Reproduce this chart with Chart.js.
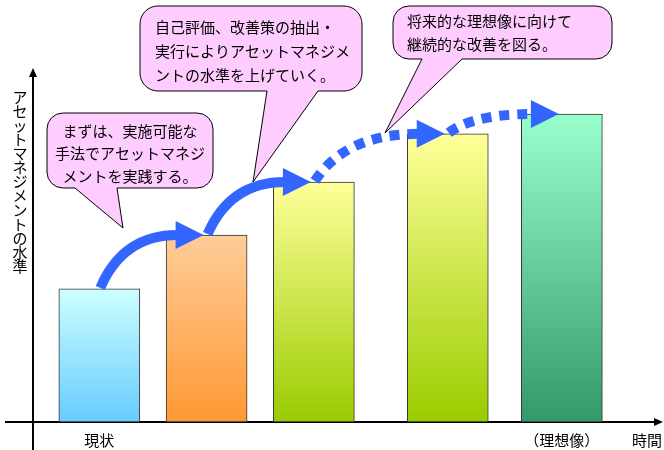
<!DOCTYPE html>
<html lang="ja">
<head>
<meta charset="utf-8">
<script src="https://cdn.jsdelivr.net/npm/chart.js@4.4.1/dist/chart.umd.min.js"></script>
<style>
  html, body { margin: 0; padding: 0; background: #fff; }
  #wrap { width: 664px; height: 450px; }
</style>
</head>
<body>
<div id="wrap"><canvas id="levelChart" width="664" height="450"></canvas></div>
<script>
// 時間軸上の位置と水準 (目盛りなし・相対値)
const timePoints = [1.07, 2.8, 4.53, 6.69, 8.53];
const levels = [37.6, 52.8, 67.8, 81.4, 87.0];
const tickLabels = ['現状', '', '', '', '（理想像）'];
const yTitle = 'アセットマネジメントの水準';
const xTitle = '時間';
// 各区間の矢印が点線かどうか
const arrowDashed = [false, false, true, true];
// 吹き出しの文言
const bubble1Lines = ['まずは、実施可能な', '手法でアセットマネジ', 'メントを実践する。'];
const bubble2Lines = ['自己評価、改善策の抽出・', '実行によりアセットマネジメ', 'ントの水準を上げていく。'];
const bubble3Lines = ['将来的な理想像に向けて', '継続的な改善を図る。'];

const topColors = ['#CCFFFF', '#FFCC99', '#FFFF99', '#FFFF99', '#99FFCC'];
const bottomColors = ['#66CCFF', '#FF9933', '#99CC00', '#99CC00', '#339966'];
const arrowBlue = '#3366FF';
const jpFont = '"Noto Sans CJK JP", "Noto Sans", sans-serif';

function drawArrow(ctx, sx, sy, tx, ty, dashed) {
    const headLen = 28, headHalf = 14;
    const bx = tx - headLen;
    const cx = sx + (bx - sx) * 0.3;
    ctx.save();
    ctx.strokeStyle = arrowBlue;
    ctx.fillStyle = arrowBlue;
    ctx.lineWidth = 10;
    ctx.lineCap = 'butt';
    if (dashed) ctx.setLineDash([10, 8]);
    ctx.beginPath();
    ctx.moveTo(sx, sy);
    ctx.quadraticCurveTo(cx, ty, bx + 2, ty);
    ctx.stroke();
    ctx.setLineDash([]);
    ctx.beginPath();
    ctx.moveTo(tx, ty);
    ctx.lineTo(bx, ty - headHalf);
    ctx.lineTo(bx, ty + headHalf);
    ctx.closePath();
    ctx.fill();
    ctx.restore();
}

function drawBubble(ctx, b, lines) {
    const { x, y, w, h, r, t1, t2, tipX, tipY } = b;
    ctx.save();
    ctx.beginPath();
    ctx.moveTo(x + r, y);
    ctx.arcTo(x + w, y, x + w, y + h, r);
    ctx.arcTo(x + w, y + h, x, y + h, r);
    ctx.lineTo(t2, y + h);
    ctx.lineTo(tipX, tipY);
    ctx.lineTo(t1, y + h);
    ctx.arcTo(x, y + h, x, y, r);
    ctx.arcTo(x, y, x + w, y, r);
    ctx.closePath();
    ctx.fillStyle = '#FFCCFF';
    ctx.fill();
    ctx.strokeStyle = '#000';
    ctx.lineWidth = 1;
    ctx.stroke();

    ctx.fillStyle = '#000';
    ctx.font = '15px ' + jpFont;
    ctx.textBaseline = 'middle';
    ctx.textAlign = b.align;
    lines.forEach((line, i) => {
        ctx.fillText(line, b.textX, b.textY + i * b.lineGap);
    });
    ctx.restore();
}

const decorPlugin = {
    id: 'decor',
    beforeDatasetsDraw(chart) {
        const ctx = chart.ctx;
        const area = chart.chartArea;
        const y0 = chart.scales.y.getPixelForValue(0);
        const xAxis = area.left;
        ctx.save();
        ctx.strokeStyle = '#000';
        ctx.fillStyle = '#000';
        ctx.lineWidth = 2;
        // 縦軸
        ctx.beginPath();
        ctx.moveTo(xAxis, chart.height);
        ctx.lineTo(xAxis, area.top + 6);
        ctx.stroke();
        ctx.beginPath();
        ctx.moveTo(xAxis, area.top);
        ctx.lineTo(xAxis - 4, area.top + 9);
        ctx.lineTo(xAxis + 4, area.top + 9);
        ctx.closePath();
        ctx.fill();
        // 横軸
        ctx.beginPath();
        ctx.moveTo(5, y0);
        ctx.lineTo(chart.width - 6, y0);
        ctx.stroke();
        ctx.beginPath();
        ctx.moveTo(chart.width - 1, y0);
        ctx.lineTo(chart.width - 10, y0 - 4);
        ctx.lineTo(chart.width - 10, y0 + 4);
        ctx.closePath();
        ctx.fill();

        // 縦書きの軸タイトル
        ctx.font = '15px ' + jpFont;
        ctx.textAlign = 'center';
        ctx.textBaseline = 'middle';
        const chars = Array.from(yTitle);
        const step = 14.1;
        chars.forEach((ch, i) => {
            ctx.fillText(ch, 20, 97 + i * step);
        });

        // 横軸ラベル
        const xScale = chart.scales.x;
        tickLabels.forEach((label, i) => {
            if (!label) return;
            ctx.fillText(label, xScale.getPixelForValue(timePoints[i]), y0 + 18);
        });
        ctx.fillText(xTitle, 647, y0 + 18);
        ctx.restore();
    },
    afterDatasetsDraw(chart) {
        const ctx = chart.ctx;
        const bars = chart.getDatasetMeta(0).data;

        drawBubble(ctx, { x: 47, y: 113, w: 166, h: 75, r: 16, t1: 75, t2: 117, tipX: 123, tipY: 228,
            align: 'center', textX: 130, textY: 131, lineGap: 22.5 }, bubble1Lines);
        drawBubble(ctx, { x: 140, y: 6, w: 222, h: 85, r: 18, t1: 267, t2: 318, tipX: 253, tipY: 182,
            align: 'left', textX: 155, textY: 27, lineGap: 24 }, bubble2Lines);
        drawBubble(ctx, { x: 393, y: 6, w: 219, h: 53, r: 16, t1: 422, t2: 462, tipX: 385, tipY: 133,
            align: 'left', textX: 407, textY: 21, lineGap: 23 }, bubble3Lines);

        for (let i = 0; i < bars.length - 1; i++) {
            const a = bars[i], b = bars[i + 1];
            drawArrow(ctx, a.x + 1, a.y - 1, b.x - 3, b.y, arrowDashed[i]);
        }
    }
};

const chartCanvas = document.getElementById('levelChart');
new Chart(chartCanvas.getContext('2d'), {
    type: 'bar',
    data: {
        datasets: [{
            data: timePoints.map((t, i) => ({ x: t, y: levels[i] })),
            backgroundColor: function (c) {
                const chart = c.chart;
                const i = c.dataIndex || 0;
                if (!chart.chartArea) return bottomColors[i];
                const yScale = chart.scales.y;
                const g = chart.ctx.createLinearGradient(0, yScale.getPixelForValue(levels[i]), 0, yScale.getPixelForValue(0));
                g.addColorStop(0, topColors[i]);
                g.addColorStop(1, bottomColors[i]);
                return g;
            },
            borderColor: '#333333',
            borderWidth: 1,
            borderSkipped: false,
            barThickness: 81
        }]
    },
    options: {
        responsive: false,
        animation: false,
        layout: { padding: { left: 33, right: 11, top: 68, bottom: 28 } },
        plugins: { legend: { display: false }, tooltip: { enabled: false } },
        scales: {
            x: { type: 'linear', min: 0, max: 10, offset: false, display: false },
            y: { min: 0, max: 100, display: false }
        }
    },
    plugins: [decorPlugin]
});
</script>
</body>
</html>
